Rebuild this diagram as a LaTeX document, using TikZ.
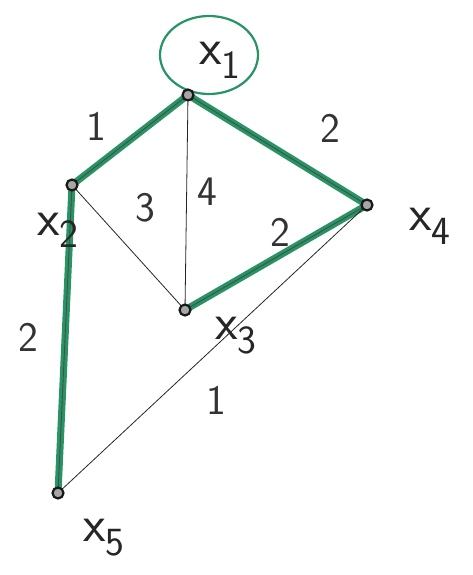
\documentclass[tikz,border=0pt]{standalone}
\usepackage{fontspec}
\definecolor{pen}{RGB}{38,148,100}
\begin{document}
\begin{tikzpicture}[x=1pt,y=-1pt,
  vert/.style={circle,draw=black!90,line width=2.2pt,fill=gray!70,inner sep=0pt,minimum size=11pt},
  hl/.style={draw=pen,line width=7pt,line cap=round},
  thin/.style={draw=black!85,line width=0.8pt},
  wt/.style={font=\fontsize{42}{42}\selectfont\sffamily,text=black!80},
  nm/.style={font=\fontsize{40}{40}\selectfont\sffamily,text=black!85}]
\useasboundingbox (0,0) rectangle (473,575);
\coordinate (lc) at (209,55);
\draw[pen,line width=2.2pt] (lc) ellipse [x radius=49, y radius=39];
% vertices positions
\coordinate (p1) at (188,95);
\coordinate (p2) at (72,185);
\coordinate (p3) at (185,310);
\coordinate (p4) at (367,205);
\coordinate (p5) at (58,493);
% highlighted edges
\draw[hl] (p1) -- (p2);
\draw[hl] (p1) -- (p4);
\draw[hl] (p3) -- (p4);
\draw[hl] (p2) -- (p5);
\draw[black!70,line width=0.9pt] (p1) -- (p2) (p1) -- (p4) (p3) -- (p4) (p2) -- (p5);
% thin edges
\draw[thin] (p1) -- (p3);
\draw[thin] (p2) -- (p3);
\draw[thin] (p5) -- (p4);
% vertices
\node[vert] (x1) at (p1) {};
\node[vert] (x2) at (p2) {};
\node[vert] (x3) at (p3) {};
\node[vert] (x4) at (p4) {};
\node[vert] (x5) at (p5) {};
% vertex names
\node[nm] (n1) at (220,60) {\scalebox{1.3}{x}\raisebox{-0.35em}{1}};
\node[nm] (n2) at (58,230) {\scalebox{1.3}{x}\raisebox{-0.3em}{2}};
\node[nm] (n3) at (236,336) {\scalebox{1.3}{x}\raisebox{-0.35em}{3}};
\node[nm] (n4) at (430,226) {\scalebox{1.3}{x}\raisebox{-0.35em}{4}};
\node[nm] (n5) at (104,538) {\scalebox{1.3}{x}\raisebox{-0.35em}{5}};
% weights
\node[wt] (w12) at (96,126) {1};
\node[wt] (w14) at (330,128) {2};
\node[wt] (w13) at (207,192) {4};
\node[wt] (w23) at (145,208) {3};
\node[wt] (w34) at (280,232) {2};
\node[wt] (w25) at (28,337) {2};
\node[wt] (w54) at (216,400) {1};
\end{tikzpicture}
\end{document}
